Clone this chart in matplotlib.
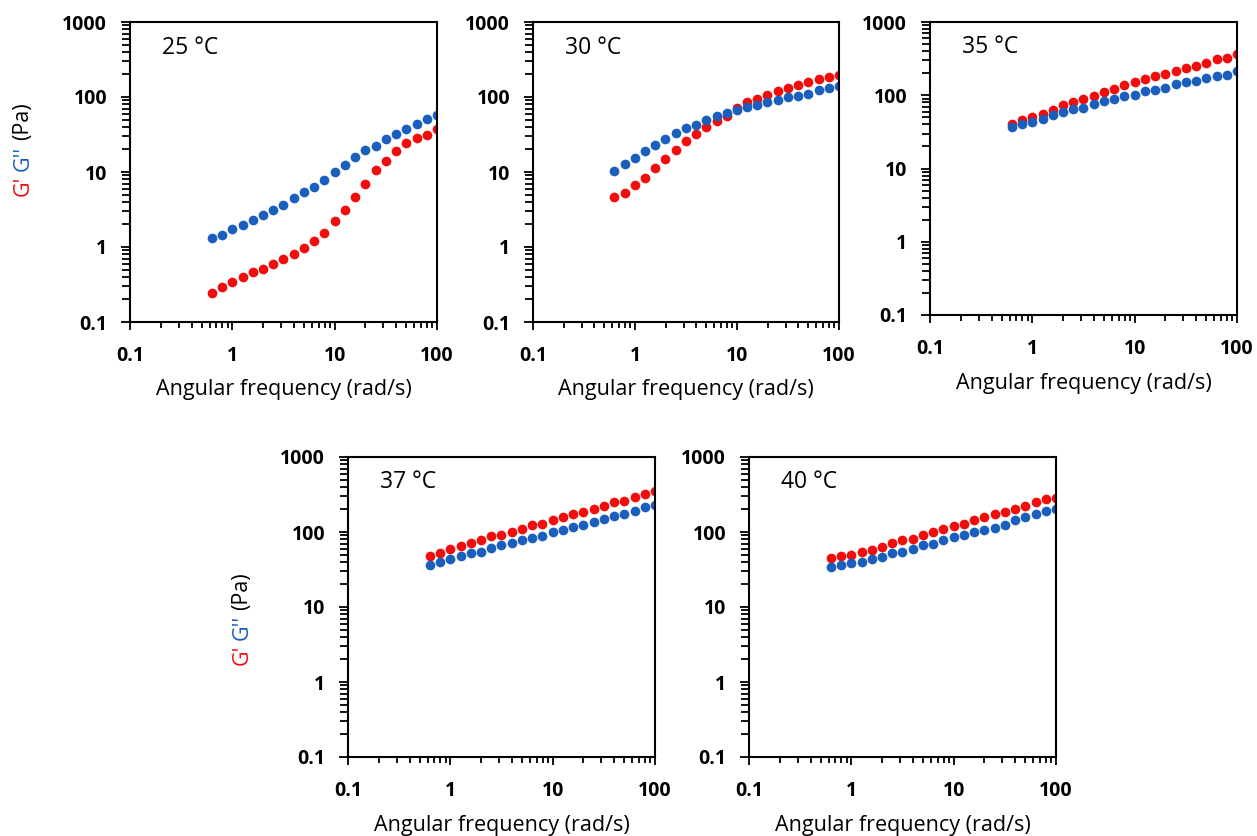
import matplotlib
matplotlib.use("Agg")
import matplotlib.pyplot as plt
from matplotlib.ticker import LogLocator, FixedLocator, NullFormatter

plt.rcParams['font.family'] = ['Open Sans', 'DejaVu Sans']

# Angular frequency (rad/s), shared by all panels
freq = [0.628, 0.792, 0.997, 1.26, 1.58, 1.99, 2.51, 3.16, 3.98, 5.01, 6.31, 7.94,
        10.0, 12.6, 15.8, 19.9, 25.1, 31.6, 39.8, 50.1, 63.1, 79.4, 100.0]

# G' (storage modulus, Pa)
g1_25 = [0.241, 0.296, 0.341, 0.398, 0.464, 0.514, 0.593, 0.699, 0.798, 0.98, 1.21, 1.55,
         2.2, 3.15, 4.69, 6.98, 10.5, 14.2, 19.1, 24.6, 28.7, 31.5, 37.1]
g1_30 = [4.59, 5.2, 6.64, 8.4, 11.4, 14.7, 19.9, 25.6, 32.4, 39.8, 48.3, 55.8,
         72.1, 84.9, 93.1, 106, 119, 131, 143, 159, 174, 185, 195]
g1_35 = [40.3, 46.5, 50.7, 56.2, 63.8, 73.8, 81.1, 89.1, 98, 111, 123, 136,
         150, 167, 184, 195, 217, 238, 248, 279, 310, 323, 362]
g1_37 = [47.9, 53, 59.3, 65.1, 70.6, 79, 87.5, 91.2, 101, 111, 123, 128,
         145, 157, 174, 187, 205, 222, 249, 262, 290, 321, 356]
g1_40 = [45, 47.4, 49.4, 54.7, 57.5, 63.7, 70.6, 78.2, 81.5, 90.3, 99, 111,
         121, 128, 143, 157, 174, 185, 205, 222, 249, 273, 287]

# G'' (loss modulus, Pa)
g2_25 = [1.33, 1.46, 1.72, 1.99, 2.31, 2.67, 3.11, 3.67, 4.45, 5.41, 6.31, 7.82,
         10.0, 12.3, 15.8, 19.4, 22.4, 27.3, 32.1, 37.1, 43.2, 50.4, 58.1]
g2_30 = [10.3, 12.8, 15.5, 19.1, 23.1, 27.3, 33.1, 38.6, 42.3, 49.4, 55.2, 60.5,
         67.8, 74.3, 77.4, 86.6, 91.2, 100, 104, 111, 124, 133, 142]
g2_35 = [36.6, 40.6, 42.8, 48.1, 53.4, 58.6, 64.4, 67.9, 75.4, 84.6, 89.1, 98,
         102, 113, 119, 127, 141, 152, 157, 174, 182, 191, 215]
g2_37 = [36.6, 40.2, 43.2, 47.4, 52, 54.7, 60.6, 66.4, 70.6, 77.4, 82.4, 89.4,
         101, 106, 117, 123, 137, 149, 163, 172, 192, 213, 227]
g2_40 = [34.5, 36.3, 38.6, 40.2, 44.1, 46.9, 52.5, 54.1, 60, 66.4, 69.9, 78.2,
         85.8, 90.3, 100, 107, 113, 125, 143, 157, 172, 192, 203]

temps = ["25 °C", "30 °C", "35 °C", "37 °C", "40 °C"]
x_ticks = [0.1, 1, 10, 100]
x_labels = ["0.1", "1", "10", "100"]
y_ticks = [0.1, 1, 10, 100, 1000]
y_labels = ["0.1", "1", "10", "100", "1000"]

RED = '#F20D0D'
BLUE = '#1A5EBE'

W, H = 1257, 836
# axes boxes in pixels: left, top, right, bottom
boxes = [(130, 22, 437, 322), (533, 22, 839, 322), (930, 22, 1237, 315),
         (348, 457, 655, 757), (749, 457, 1056, 757)]

fig = plt.figure(figsize=(W / 100, H / 100), dpi=100)

g1_all = [g1_25, g1_30, g1_35, g1_37, g1_40]
g2_all = [g2_25, g2_30, g2_35, g2_37, g2_40]

for i, (l, t, r, b) in enumerate(boxes):
    ax = fig.add_axes([l / W, 1 - b / H, (r - l) / W, (b - t) / H])
    ax.plot(freq, g1_all[i], 'o', color=RED, markersize=7, markeredgewidth=0)
    ax.plot(freq, g2_all[i], 'o', color=BLUE, markersize=7, markeredgewidth=0)
    ax.set_xscale('log')
    ax.set_yscale('log')
    ax.set_xlim(0.1, 100)
    ax.set_ylim(0.1, 1000)
    ax.xaxis.set_major_locator(FixedLocator(x_ticks))
    ax.set_xticklabels(x_labels)
    ax.yaxis.set_major_locator(FixedLocator(y_ticks))
    ax.set_yticklabels(y_labels)
    ax.xaxis.set_minor_locator(LogLocator(base=10, subs=range(2, 10)))
    ax.yaxis.set_minor_locator(LogLocator(base=10, subs=range(2, 10)))
    ax.xaxis.set_minor_formatter(NullFormatter())
    ax.yaxis.set_minor_formatter(NullFormatter())
    ax.tick_params(axis='x', which='major', direction='out', length=6, width=1.3,
                   labelsize=14, pad=11)
    ax.tick_params(axis='y', which='major', direction='out', length=6.5, width=1.3,
                   labelsize=14, pad=10)
    ax.tick_params(axis='x', which='minor', direction='out', length=4.5, width=1.3)
    ax.tick_params(axis='y', which='minor', direction='out', length=5.5, width=1.3)
    for lab in ax.get_xticklabels() + ax.get_yticklabels():
        lab.set_fontweight('bold')
    for sp in ax.spines.values():
        sp.set_linewidth(1.5)
    ax.set_xlabel("Angular frequency (rad/s)", fontsize=15.5, labelpad=10)
    ax.text(0.105, 0.915, temps[i], transform=ax.transAxes, fontsize=16.5,
            ha='left', va='center')


def ylabel_parts(x, y):
    t1 = fig.text(x / W, 1 - y / H, "G'", color=RED, fontsize=15.5, rotation=90,
                  ha='center', va='bottom')
    t2 = fig.text(0, 0, "G''", color=BLUE, fontsize=15.5, rotation=90,
                  ha='center', va='bottom')
    t3 = fig.text(0, 0, "(Pa)", color='black', fontsize=15.5, rotation=90,
                  ha='center', va='bottom')
    fig.canvas.draw()
    r = fig.canvas.get_renderer()
    gap = 5
    bb1 = t1.get_window_extent(r)
    t2.set_position((x / W, (bb1.y1 + gap) / H))
    bb2 = t2.get_window_extent(r)
    t3.set_position((x / W, (bb2.y1 + gap) / H))


ylabel_parts(23, 196)
ylabel_parts(242, 665)

fig.savefig("out.png", dpi=100)
